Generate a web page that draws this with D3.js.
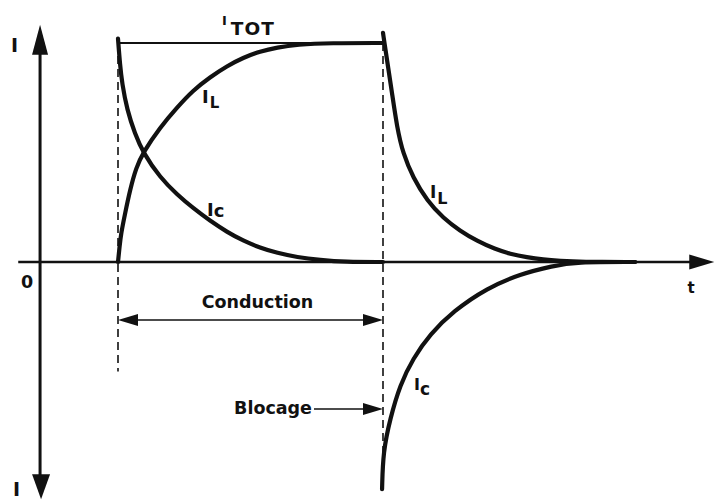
<!DOCTYPE html>
<html lang="en">
<head>
<meta charset="UTF-8">
<title>Conduction / Blocage</title>
<script src="https://d3js.org/d3.v7.min.js"></script>
<style>
    body { margin: 0; background: #fff; }
    svg { display: block; }
    text { font-family: "DejaVu Sans", sans-serif; font-weight: bold; fill: #111; }
</style>
</head>
<body>
<svg id="chart" width="716" height="500"></svg>
<script>
    // ---------------- data ----------------
    // t in arbitrary time units, current normalised so that I_TOT = 1
    const tOn = 1, tOff = 4.4;           // conduction starts / blocage
    const tRange = [-0.28, 8.65];        // extent of the t axis
    const iRange = [-1.083, 1.083];      // extent of the I axis

    // I_L building up during conduction
    const iLRise = [[1.0, 0], [1.02, 0.07], [1.039, 0.13], [1.09, 0.22], [1.155, 0.33], [1.232, 0.43], [1.321, 0.5],
        [1.54, 0.615], [1.758, 0.706], [1.963, 0.784], [2.181, 0.844], [2.399, 0.895], [2.605, 0.933],
        [2.823, 0.962], [3.041, 0.98], [3.297, 0.993], [3.72, 1], [4.4, 1]];

    // I_c decaying during conduction
    const iCDecay = [[1.0, 1.02], [1.026, 0.9], [1.052, 0.817], [1.116, 0.695], [1.218, 0.585], [1.321, 0.5],
        [1.54, 0.385], [1.758, 0.308], [1.963, 0.246], [2.181, 0.188], [2.399, 0.137], [2.605, 0.097],
        [2.823, 0.065], [3.041, 0.041], [3.297, 0.022], [3.592, 0.009], [3.913, 0], [4.4, 0]];

    // I_L after blocage
    const iLFall = [[4.4, 1.046], [4.452, 0.922], [4.516, 0.771], [4.58, 0.615], [4.657, 0.495],
        [4.786, 0.385], [4.965, 0.28], [5.171, 0.201], [5.389, 0.142], [5.607, 0.096], [5.838, 0.059],
        [6.03, 0.037], [6.248, 0.021], [6.454, 0.011], [6.672, 0.005], [6.93, 0], [7.634, 0]];

    // I_c after blocage (negative)
    const iCNeg = [[4.388, -1.037], [4.401, -0.867], [4.491, -0.716], [4.619, -0.56], [4.786, -0.44],
        [5.004, -0.33], [5.299, -0.225], [5.735, -0.119], [6.159, -0.055], [6.582, -0.018],
        [6.864, 0], [7.634, 0]];

    const totLevel = [[tOn, 1], [tOff, 1]];

    // ---------------- scales ----------------
    const svg = d3.select("#chart");
    const x = d3.scaleLinear().domain([tOn, tOff]).range([118, 383]);
    const y = d3.scaleLinear().domain([0, 1]).range([262, 43]);
    const ink = "#111";

    const line = d3.line()
        .x(d => x(d[0]))
        .y(d => y(d[1]))
        .curve(d3.curveBasis);

    // filled arrow head, (dx, dy) is a unit vector pointing to the tip
    function arrowHead(tx, ty, dx, dy, len, half) {
        const bx = tx - dx * len, by = ty - dy * len;
        const px = -dy * half, py = dx * half;
        svg.append("path")
            .attr("d", `M${tx},${ty}L${bx + px},${by + py}L${bx - px},${by - py}Z`)
            .attr("fill", ink);
    }

    // ---------------- axes ----------------
    svg.append("line")
        .attr("x1", x(0)).attr("x2", x(0))
        .attr("y1", y(iRange[1]) + 20).attr("y2", y(iRange[0]) - 20)
        .attr("stroke", ink).attr("stroke-width", 3);
    arrowHead(x(0), y(iRange[1]), 0, -1, 30, 8);
    arrowHead(x(0) + 1, y(iRange[0]), 0, 1, 25, 9);

    svg.append("line")
        .attr("x1", x(tRange[0])).attr("x2", x(tRange[1]) - 15)
        .attr("y1", y(0)).attr("y2", y(0))
        .attr("stroke", ink).attr("stroke-width", 2.5);
    arrowHead(x(tRange[1]), y(0), 1, 0, 25, 7.5);

    svg.append("text").attr("x", 14.5).attr("y", 52).attr("font-size", 19)
        .attr("text-anchor", "middle").text("I");
    svg.append("text").attr("x", 16.5).attr("y", 496).attr("font-size", 19)
        .attr("text-anchor", "middle").text("I");
    svg.append("text").attr("x", x(0) - 13).attr("y", 288).attr("font-size", 17.5)
        .attr("text-anchor", "middle").text("0");
    svg.append("text").attr("x", 691).attr("y", 293).attr("font-size", 15)
        .attr("text-anchor", "middle").text("t");

    // ---------------- dashed guides ----------------
    svg.append("line")
        .attr("x1", x(tOn)).attr("x2", x(tOn))
        .attr("y1", y(1)).attr("y2", y(-0.5))
        .attr("stroke", ink).attr("stroke-width", 1.6).attr("stroke-dasharray", "8,5");
    svg.append("line")
        .attr("x1", x(tOff)).attr("x2", x(tOff))
        .attr("y1", y(1)).attr("y2", y(-0.88))
        .attr("stroke", ink).attr("stroke-width", 1.6).attr("stroke-dasharray", "8,5");

    // I_TOT level
    svg.append("path").attr("d", d3.line().x(d => x(d[0])).y(d => y(d[1]))(totLevel))
        .attr("fill", "none").attr("stroke", ink).attr("stroke-width", 1.8);

    // ---------------- curves ----------------
    [iLRise, iCDecay, iLFall, iCNeg].forEach(pts => {
        svg.append("path").attr("d", line(pts))
            .attr("fill", "none").attr("stroke", ink)
            .attr("stroke-width", 4.2).attr("stroke-linecap", "round");
    });

    // ---------------- labels ----------------
    function label(px, py, main, sub, mainSize, subSize, dx, dy, spacing) {
        const t = svg.append("text").attr("x", px).attr("y", py).attr("font-size", mainSize);
        t.append("tspan").text(main);
        t.append("tspan").attr("dx", dx).attr("dy", dy).attr("font-size", subSize)
            .attr("letter-spacing", spacing || 0).text(sub);
    }
    label(222, 25, "I", "TOT", 13, 18.5, 4, 10, 1);
    label(202, 103, "I", "L", 18, 15, 1, 5);
    label(207, 216, "I", "c", 18, 18, 0, 1);
    label(430, 198, "I", "L", 17, 16, 1, 6);
    label(414, 390, "I", "c", 16, 17, 0, 5);

    // ---------------- conduction / blocage arrows ----------------
    const yCond = y(-0.265);
    svg.append("line")
        .attr("x1", x(tOn) + 15).attr("x2", x(tOff) - 15)
        .attr("y1", yCond).attr("y2", yCond)
        .attr("stroke", ink).attr("stroke-width", 1.6);
    arrowHead(x(tOn), yCond, -1, 0, 20, 6);
    arrowHead(x(tOff), yCond, 1, 0, 20, 6);
    svg.append("text").attr("x", (x(tOn) + x(tOff)) / 2 + 7).attr("y", 308)
        .attr("font-size", 17.5).attr("text-anchor", "middle").text("Conduction");

    const yBlk = 409;
    svg.append("line")
        .attr("x1", 314).attr("x2", x(tOff) - 15)
        .attr("y1", yBlk).attr("y2", yBlk)
        .attr("stroke", ink).attr("stroke-width", 1.6);
    arrowHead(x(tOff), yBlk, 1, 0, 20, 6);
    svg.append("text").attr("x", 312).attr("y", 414)
        .attr("font-size", 17.5).attr("text-anchor", "end").text("Blocage");
</script>
</body>
</html>
